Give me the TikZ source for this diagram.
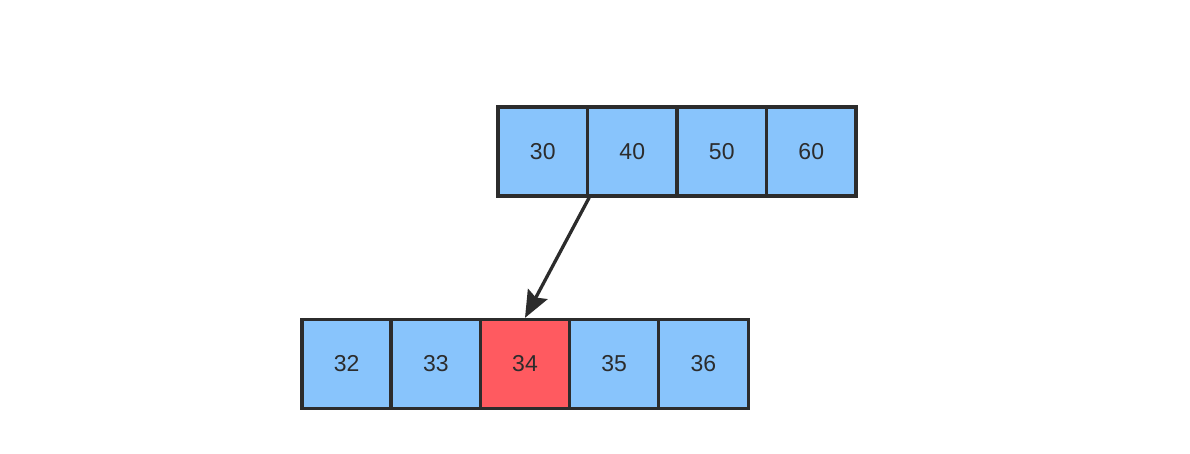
\documentclass[tikz,border=0pt]{standalone}
\usepackage{fontspec}
\setmainfont{Liberation Sans}
\usetikzlibrary{arrows.meta}
\definecolor{cellblue}{HTML}{88C4FC}
\definecolor{cellred}{HTML}{FF5A60}
\definecolor{edge}{HTML}{2C2C2C}
\tikzset{
  cell/.style={draw=edge, line width=3.3pt, fill=cellblue, minimum width=89.5pt, minimum height=89pt, inner sep=0pt, text=edge, font=\fontsize{23}{27}\selectfont},
  hot/.style={cell, fill=cellred},
  link/.style={draw=edge, line width=3.3pt, -{Stealth[length=27pt,width=22pt,inset=4pt]}}
}
\begin{document}
\begin{tikzpicture}[x=1pt,y=1pt]
\useasboundingbox (0,0) rectangle (1190,454);
\node[cell] (t30) at (542.75,302.5) {30};
\node[cell] (t40) at (632.25,302.5) {40};
\node[cell] (t50) at (721.75,302.5) {50};
\node[cell] (t60) at (811.25,302.5) {60};
\node[cell] (b32) at (346.6,90) {32};
\node[cell] (b33) at (435.8,90) {33};
\node[hot]  (b34) at (525,90) {34};
\node[cell] (b35) at (614.2,90) {35};
\node[cell] (b36) at (703.4,90) {36};
\draw[link] (t30.south east) -- (b34.north);
\end{tikzpicture}
\end{document}
